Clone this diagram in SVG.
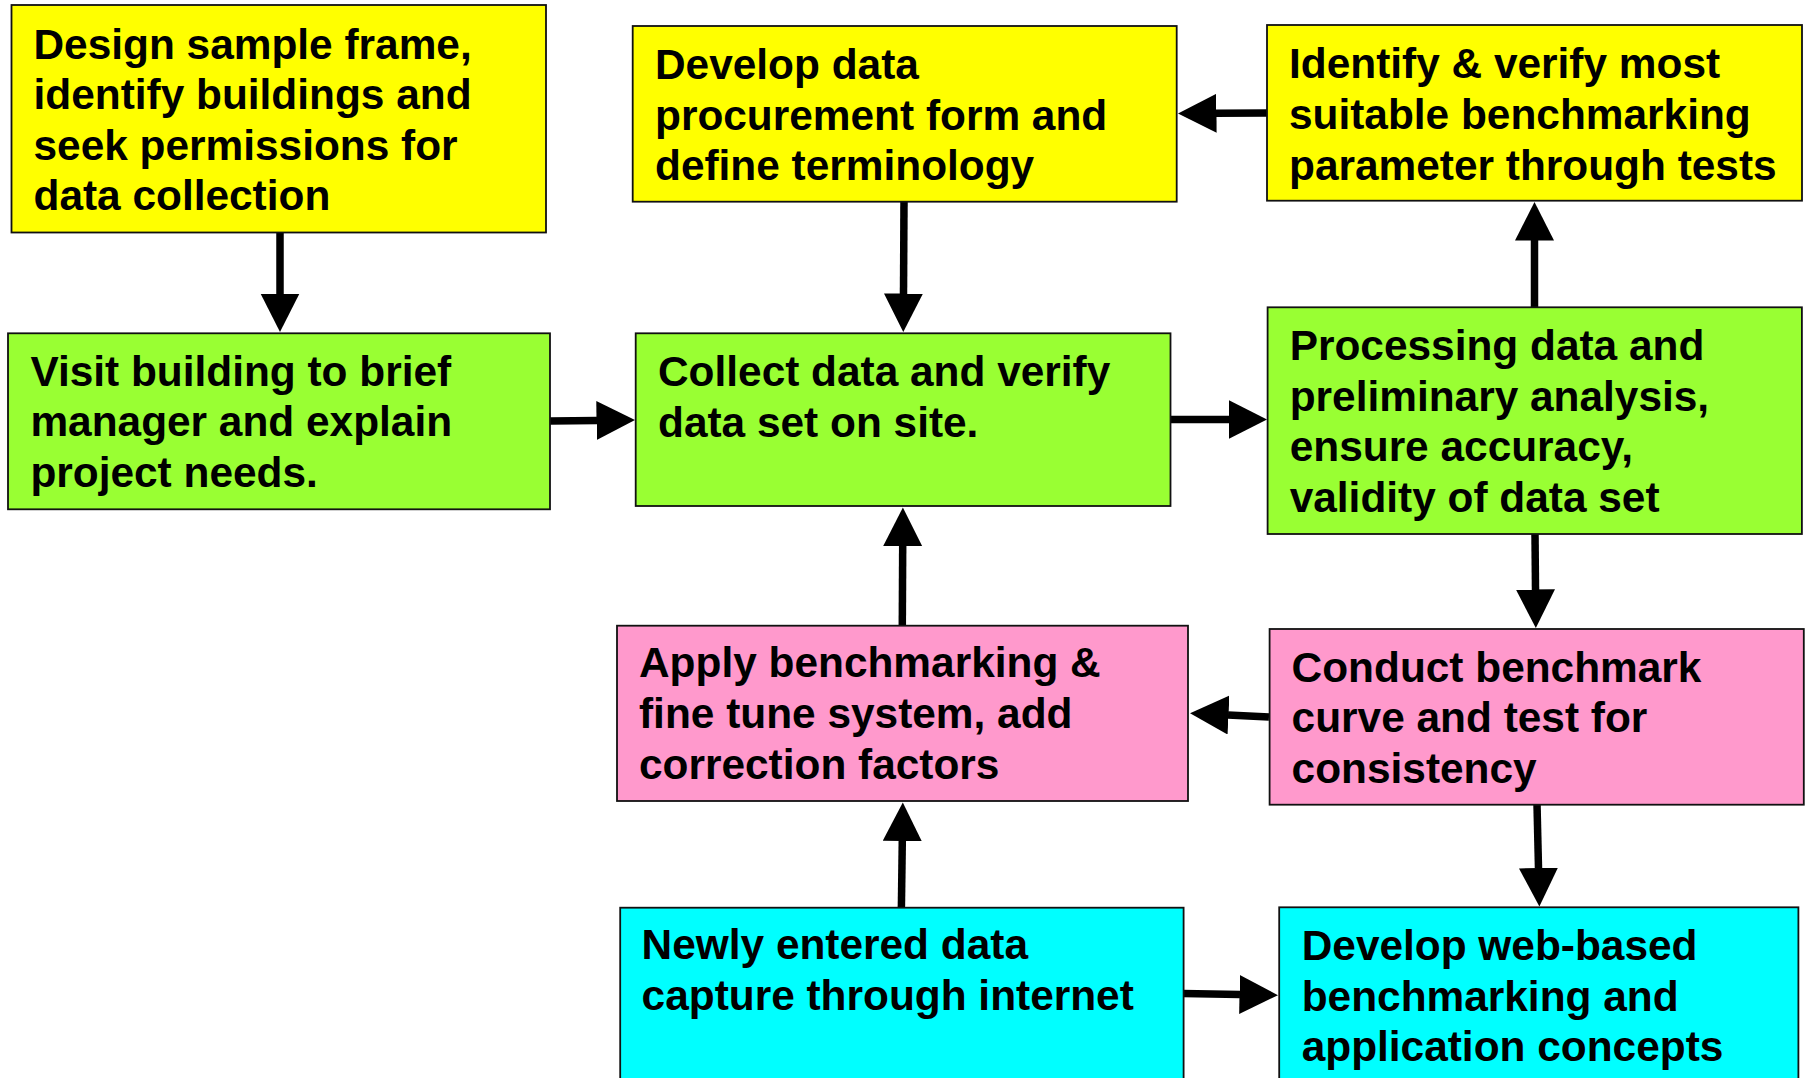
<svg xmlns="http://www.w3.org/2000/svg" width="1806" height="1078" viewBox="0 0 1806 1078">
<style>
.box{stroke:#111;stroke-width:1.8}
.y{fill:#FFFF00}.g{fill:#99FF33}.p{fill:#FF99CC}.c{fill:#00FFFF}
.t{font-family:"Liberation Sans",Arial,sans-serif;font-weight:bold;font-size:42.4px;fill:#000}
.cn{stroke:#000;stroke-width:7.5;fill:none;marker-end:url(#ah)}
</style>
<defs>
<marker id="ah" markerUnits="userSpaceOnUse" markerWidth="40" markerHeight="40" viewBox="0 0 40 40" refX="0.5" refY="19.5" orient="auto">
<path d="M0,0 L38.5,19.5 L0,39 Z" fill="#000"/>
</marker>
</defs>
<rect width="1806" height="1078" fill="#fff"/>
<g id="connectors">
<line class="cn" x1="280" y1="232" x2="280" y2="294"/>
<line class="cn" x1="904" y1="201" x2="903.5" y2="294"/>
<line class="cn" x1="1267" y1="113" x2="1216" y2="113.3"/>
<line class="cn" x1="550" y1="421" x2="597" y2="420.5"/>
<line class="cn" x1="1170" y1="419.5" x2="1229" y2="419.5"/>
<line class="cn" x1="1534.5" y1="307" x2="1534.5" y2="240"/>
<line class="cn" x1="1535" y1="534" x2="1535.5" y2="590"/>
<line class="cn" x1="1269" y1="717" x2="1228" y2="715"/>
<line class="cn" x1="902.3" y1="625" x2="902.7" y2="545.5"/>
<line class="cn" x1="901.4" y1="907" x2="902.3" y2="840.5"/>
<line class="cn" x1="1537" y1="804" x2="1538.5" y2="868.5"/>
<line class="cn" x1="1183" y1="993.5" x2="1240" y2="994.5"/>
</g>
<g id="n1">
<rect class="box y" x="11.5" y="5" width="534.5" height="227.5"/>
<text class="t"><tspan x="33.5" y="58.5">Design sample frame,</tspan><tspan x="33.5" y="109">identify buildings and</tspan><tspan x="33.5" y="159.5">seek permissions for</tspan><tspan x="33.5" y="210">data collection</tspan></text>
</g>
<g id="n2">
<rect class="box y" x="632.7" y="26" width="544" height="175.7"/>
<text class="t"><tspan x="655" y="79">Develop data</tspan><tspan x="655" y="129.6">procurement form and</tspan><tspan x="655" y="180.2">define terminology</tspan></text>
</g>
<g id="n3">
<rect class="box y" x="1267" y="25" width="535" height="175.7"/>
<text class="t"><tspan x="1289" y="78.3">Identify &amp; verify most</tspan><tspan x="1289" y="128.9">suitable benchmarking</tspan><tspan x="1289" y="179.5">parameter through tests</tspan></text>
</g>
<g id="n4">
<rect class="box g" x="8" y="333.3" width="542" height="176"/>
<text class="t"><tspan x="30.4" y="385.5">Visit building to brief</tspan><tspan x="30.4" y="436.1">manager and explain</tspan><tspan x="30.4" y="486.7">project needs.</tspan></text>
</g>
<g id="n5">
<rect class="box g" x="635.7" y="333.3" width="534.8" height="172.7"/>
<text class="t"><tspan x="658" y="386">Collect data and verify</tspan><tspan x="658" y="436.6">data set on site.</tspan></text>
</g>
<g id="n6">
<rect class="box g" x="1267.6" y="307.3" width="534.3" height="226.7"/>
<text class="t"><tspan x="1289.7" y="360">Processing data and</tspan><tspan x="1289.7" y="410.6">preliminary analysis,</tspan><tspan x="1289.7" y="461.2">ensure accuracy,</tspan><tspan x="1289.7" y="511.8">validity of data set</tspan></text>
</g>
<g id="n7">
<rect class="box p" x="617" y="625.7" width="571" height="175.3"/>
<text class="t"><tspan x="639" y="677.3">Apply benchmarking &amp;</tspan><tspan x="639" y="727.9">fine tune system, add</tspan><tspan x="639" y="778.5">correction factors</tspan></text>
</g>
<g id="n8">
<rect class="box p" x="1269.6" y="629" width="534.2" height="175.7"/>
<text class="t"><tspan x="1291.6" y="681.7">Conduct benchmark</tspan><tspan x="1291.6" y="732.3">curve and test for</tspan><tspan x="1291.6" y="782.9">consistency</tspan></text>
</g>
<g id="n9">
<rect class="box c" x="620.2" y="907.7" width="563.4" height="190"/>
<text class="t"><tspan x="641.6" y="959.3">Newly entered data</tspan><tspan x="641.6" y="1009.9">capture through internet</tspan></text>
</g>
<g id="n10">
<rect class="box c" x="1279.2" y="907.3" width="519.2" height="190"/>
<text class="t"><tspan x="1301.7" y="960">Develop web-based</tspan><tspan x="1301.7" y="1010.6">benchmarking and</tspan><tspan x="1301.7" y="1061.2">application concepts</tspan></text>
</g>
</svg>
